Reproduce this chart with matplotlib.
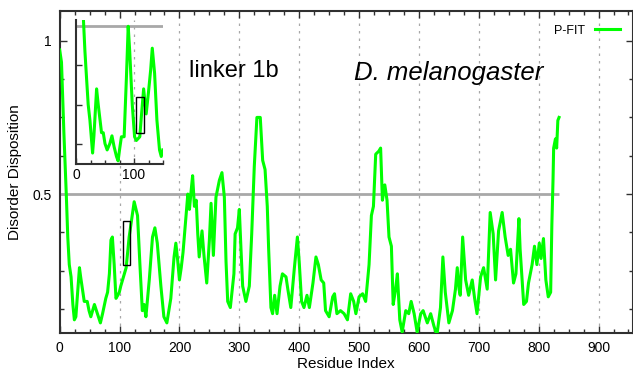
import numpy as np
import matplotlib
matplotlib.use('Agg')
import matplotlib.pyplot as plt
from matplotlib.patches import Rectangle
from matplotlib.ticker import MultipleLocator, FixedLocator

plt.rcParams['font.family'] = ['Liberation Sans', 'DejaVu Sans']

# P-FIT disorder profile (residue, value)
res = [0, 3, 7, 11, 13.5, 16, 19, 22, 24.5, 27, 30, 33, 35, 38, 41, 46, 49, 52, 55, 58,
       63, 68, 71.6, 77, 80, 83, 85.6, 88, 91, 94, 97, 99.6, 102, 105, 111, 116, 120, 124.4,
       130, 134, 138, 141, 144, 149.6, 155, 159, 163, 169, 174, 179, 185.6, 191, 194, 197,
       200, 203, 206, 211, 214, 216.7, 219, 222, 225, 228, 230.6, 233, 237.7, 241, 245.6,
       250, 252.8, 256.7, 261, 266.7, 271, 275, 277.8, 280.6, 285, 291, 293, 297, 300,
       302.8, 305.6, 311, 316.7, 320.7, 325, 329.4, 335, 339, 343, 346.7, 349, 352.8, 355.6,
       359, 363, 368, 372, 378, 381, 386, 392, 397, 400, 404, 408, 413, 417, 423, 428, 432,
       436.7, 441, 444, 450, 456, 459, 463, 469, 475, 480.6, 486, 491, 494.7, 500, 506, 511,
       516.7, 520.6, 524, 527.8, 533, 536, 539, 543, 546.7, 550, 554, 557, 561, 564, 568,
       572, 578, 583, 587, 592, 597, 603, 607, 614, 619.6, 625, 630, 636, 640, 644, 650,
       656, 661, 664, 667, 669, 673, 678, 683, 689, 693, 697, 703, 708, 714, 719, 724, 728,
       733, 739, 744, 749, 753, 758, 762, 767, 769, 775, 779.6, 783, 789, 793, 797, 801,
       804, 808, 812, 816, 820, 822, 824, 825, 828, 830, 832, 834]
pfit = [0.97, 0.93, 0.70, 0.50, 0.36, 0.27, 0.23, 0.14, 0.09, 0.10, 0.18, 0.26, 0.23, 0.19,
        0.15, 0.15, 0.12, 0.10, 0.12, 0.14, 0.11, 0.08, 0.11, 0.16, 0.18, 0.24, 0.35, 0.36,
        0.27, 0.16, 0.17, 0.18, 0.20, 0.22, 0.26, 0.36, 0.415, 0.475, 0.43, 0.27, 0.12, 0.14,
        0.10, 0.22, 0.36, 0.39, 0.34, 0.20, 0.10, 0.08, 0.16, 0.295, 0.34, 0.285, 0.22, 0.26,
        0.31, 0.43, 0.50, 0.45, 0.50, 0.56, 0.46, 0.48, 0.37, 0.295, 0.38, 0.30, 0.21, 0.35,
        0.47, 0.30, 0.49, 0.545, 0.57, 0.49, 0.28, 0.15, 0.13, 0.24, 0.37, 0.39, 0.45, 0.32,
        0.20, 0.15, 0.20, 0.37, 0.59, 0.75, 0.75, 0.61, 0.58, 0.46, 0.32, 0.13, 0.11, 0.17,
        0.11, 0.20, 0.24, 0.23, 0.19, 0.13, 0.26, 0.36, 0.28, 0.15, 0.13, 0.17, 0.13, 0.21,
        0.295, 0.27, 0.22, 0.21, 0.12, 0.10, 0.165, 0.175, 0.11, 0.12, 0.11, 0.09, 0.175, 0.15,
        0.11, 0.165, 0.175, 0.15, 0.27, 0.43, 0.46, 0.63, 0.64, 0.65, 0.48, 0.53, 0.48, 0.36,
        0.33, 0.14, 0.19, 0.24, 0.09, 0.05, 0.12, 0.11, 0.15, 0.11, 0.05, 0.11, 0.12, 0.08,
        0.11, 0.07, 0.04, 0.13, 0.295, 0.18, 0.08, 0.12, 0.19, 0.26, 0.19, 0.17, 0.36, 0.22,
        0.17, 0.22, 0.16, 0.11, 0.23, 0.26, 0.19, 0.44, 0.37, 0.22, 0.38, 0.44, 0.36, 0.30,
        0.32, 0.21, 0.24, 0.42, 0.32, 0.14, 0.15, 0.21, 0.27, 0.33, 0.27, 0.34, 0.29, 0.355,
        0.22, 0.165, 0.18, 0.40, 0.55, 0.65, 0.68, 0.65, 0.74, 0.75]

# inset: close-up of the first ~150 residues
ins_res = [12.6, 15.4, 18, 21, 24, 28.6, 30.9, 35.5, 38.3, 44, 47, 50, 53.7, 58.3, 62, 65.7,
           69.8, 72.6, 75.4, 78.3, 83, 87, 90, 92.6, 97, 101, 104, 110, 112.6, 116.6, 121,
           125, 128.7, 131.5, 135.5, 139.5, 144, 147, 149.6]
ins_val = [0.53, 0.42, 0.34, 0.25, 0.20, 0.095, 0.15, 0.30, 0.25, 0.16, 0.16, 0.125, 0.105,
           0.125, 0.15, 0.115, 0.084, 0.07, 0.11, 0.147, 0.147, 0.34, 0.50, 0.42, 0.25, 0.147,
           0.135, 0.147, 0.21, 0.30, 0.22, 0.29, 0.36, 0.43, 0.35, 0.20, 0.105, 0.084, 0.105]

# linker 1b boxes (x0, x1, y0, y1)
linker_main = (105, 117, 0.268, 0.412)
linker_ins = (104, 116.5, 0.16, 0.273)

green = '#00ff00'
gray = '#a8a8a8'

fig = plt.figure(figsize=(6.33, 3.74), dpi=100)
ax = fig.add_axes([0.0943, 0.1096, 0.9052, 0.861])

for g in range(100, 1000, 100):
    ax.axvline(g, color=gray, lw=0.9, ls=(0, (2, 4)), zorder=1)
ax.hlines(0.5, 0, res[-1], color=gray, lw=2, zorder=2)
ax.plot(res, pfit, color=green, lw=2.2, zorder=3, label='P-FIT')
x0, x1, y0, y1 = linker_main
ax.add_patch(Rectangle((x0, y0), x1 - x0, y1 - y0, fill=False, ec='black', lw=1, zorder=4))

ax.set_xlim(0, 957)
ax.set_ylim(0.047, 1.097)
ax.xaxis.set_major_locator(MultipleLocator(100))
ax.xaxis.set_minor_locator(MultipleLocator(25))
ax.yaxis.set_major_locator(FixedLocator([0.5, 1.0]))
ax.yaxis.set_minor_locator(MultipleLocator(0.125))
ax.set_yticklabels(['0.5', '1'])
ax.tick_params(which='both', direction='in', top=True, right=True, labelsize=10,
               color='#303030', width=1)
ax.tick_params(which='major', length=5, pad=6)
ax.tick_params(which='minor', length=3)
for s in ax.spines.values():
    s.set_linewidth(1.5)
    s.set_color('#303030')
ax.set_xlabel('Residue Index', fontsize=11, labelpad=1)
ax.set_ylabel('Disorder Disposition', fontsize=11, labelpad=7)

ax.legend(loc='upper right', bbox_to_anchor=(0.978, 0.958), frameon=False, fontsize=9,
          markerfirst=False, handlelength=2.0, borderpad=0, borderaxespad=0,
          handletextpad=0.8)

ax.text(0.304, 0.814, 'linker 1b', transform=ax.transAxes, fontsize=17,
        ha='center', va='center')
ax.text(0.679, 0.807, 'D. melanogaster', transform=ax.transAxes, fontsize=18.5,
        style='italic', ha='center', va='center')

# inset
ai = fig.add_axes([76 / 633, (374 - 164) / 374, 87 / 633, 144 / 374])
ai.set_facecolor('white')
ai.axvline(100, color=gray, lw=0.9, ls=(0, (2, 4)), zorder=1)
ai.hlines(0.5, 0, 150, color=gray, lw=2, zorder=2)
ai.plot(ins_res, ins_val, color=green, lw=2.2, zorder=3)
x0, x1, y0, y1 = linker_ins
ai.add_patch(Rectangle((x0, y0), x1 - x0, y1 - y0, fill=False, ec='black', lw=1, zorder=4))
ai.set_xlim(0, 150)
ai.set_ylim(0.06, 0.52)
ai.xaxis.set_major_locator(FixedLocator([0, 100]))
ai.xaxis.set_minor_locator(MultipleLocator(25))
ai.yaxis.set_major_locator(FixedLocator([0.125, 0.25, 0.375]))
ai.set_yticklabels([])
ai.tick_params(which='both', direction='in', labelsize=10, color='#303030', width=1)
ai.tick_params(which='major', length=4, pad=3)
ai.tick_params(which='minor', length=3)
ai.spines['top'].set_visible(False)
ai.spines['right'].set_visible(False)
for s in ('left', 'bottom'):
    ai.spines[s].set_linewidth(1.5)
    ai.spines[s].set_color('#303030')

fig.savefig('out.png', dpi=100)
